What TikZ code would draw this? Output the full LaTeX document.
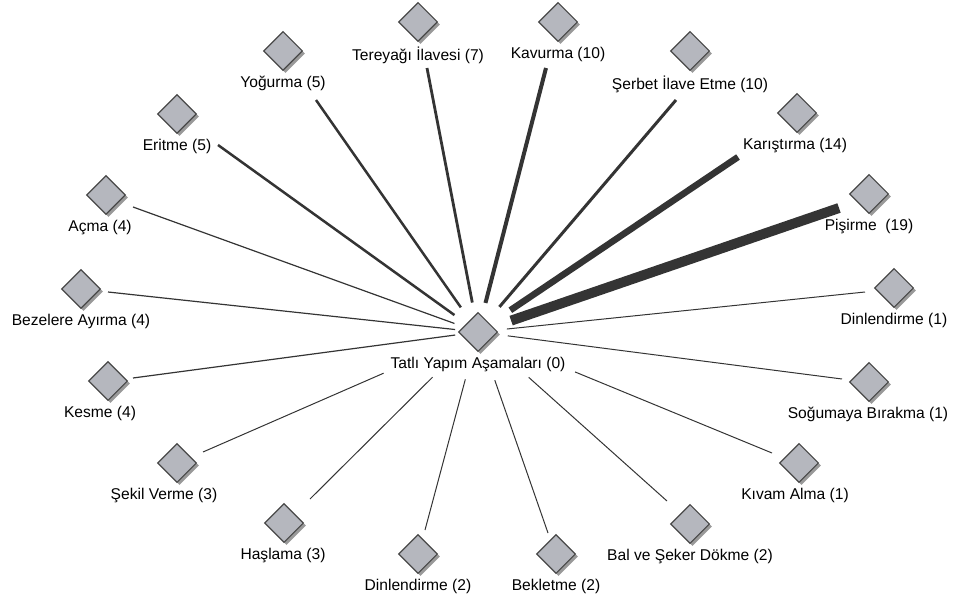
\documentclass[tikz,border=0pt]{standalone}
\usepackage{fontspec}
\setmainfont{Liberation Sans}
\usetikzlibrary{shapes.geometric,shadows,positioning}
\definecolor{stagefill}{RGB}{181,183,190}
\definecolor{stageline}{RGB}{72,72,72}
\definecolor{edgecol}{RGB}{52,52,52}
\tikzset{
  stage/.style={diamond,draw=stageline,line width=1.1pt,fill=stagefill,minimum width=39pt,minimum height=39pt,inner sep=0pt,
    drop shadow={shadow xshift=2.5pt,shadow yshift=-2.5pt,fill=black!40,opacity=1}},
  lbl/.style={inner sep=0pt,font=\fontsize{15.6}{18}\selectfont},
  edge/.style={draw=edgecol}
}
\begin{document}
\begin{tikzpicture}[x=1pt,y=-1pt]
\useasboundingbox (0,0) rectangle (957,604);
\node[stage] (hub) at (478,332) {}; \node[lbl,below=5pt of hub] (hub-l) {Tatlı Yapım Aşamaları (0)};
\foreach \n/\x/\y/\t/\dx in {ter/418/22/{Tereyağı İlavesi (7)}/0, kav/558/22/{Kavurma (10)}/0, yog/283/51/{Yoğurma (5)}/0,
  ser/690/51/{Şerbet İlave Etme (10)}/0, eri/177/114/{Eritme (5)}/0, kar/797/113/{Karıştırma (14)}/-2,
  acm/106/195/{Açma (4)}/-6, pis/869/194/{Pişirme~~(19)}/0, bez/81/289/{Bezelere Ayırma (4)}/0,
  din/894/288/{Dinlendirme (1)}/0, kes/108/381/{Kesme (4)}/-8, sog/869/382/{Soğumaya Bırakma (1)}/-1,
  sek/177/463/{Şekil Verme (3)}/-13, kiv/799/463/{Kıvam Alma (1)}/-4, has/284/523/{Haşlama (3)}/-1,
  bal/690/524/{Bal ve Şeker Dökme (2)}/0, dio/418/554/{Dinlendirme (2)}/0, bek/556/554/{Bekletme (2)}/0}
{ \node[stage] (\n) at (\x,\y) {}; \node[lbl,below=5pt of \n,xshift=\dx pt] (\n-l) {\t}; };
\foreach \n/\ex/\ey/\w/\s in {ter/427/68/2.8/30, kav/546/68/4/30, yog/316/100/2.5/30, ser/676/100/3/33, eri/218/145/2.5/29,
  kar/738/157/6.5/39, acm/133/207/1.2/25, pis/839/208/10/35, bez/108/292/1.2/23, din/865/292/1/29, kes/133/378/1.2/23,
  sog/842/379/1/30, sek/203/452/1/103, kiv/772/453/1/105, has/310/499/1/64, bal/667/501/1/68, dio/425/530/1/49, bek/548/533/1/51}
{ \coordinate (\n-e) at (\ex,\ey); \draw[edge,line width=\w pt,shorten <=\s pt] (hub.center) -- (\n-e); };
\end{tikzpicture}
\end{document}
